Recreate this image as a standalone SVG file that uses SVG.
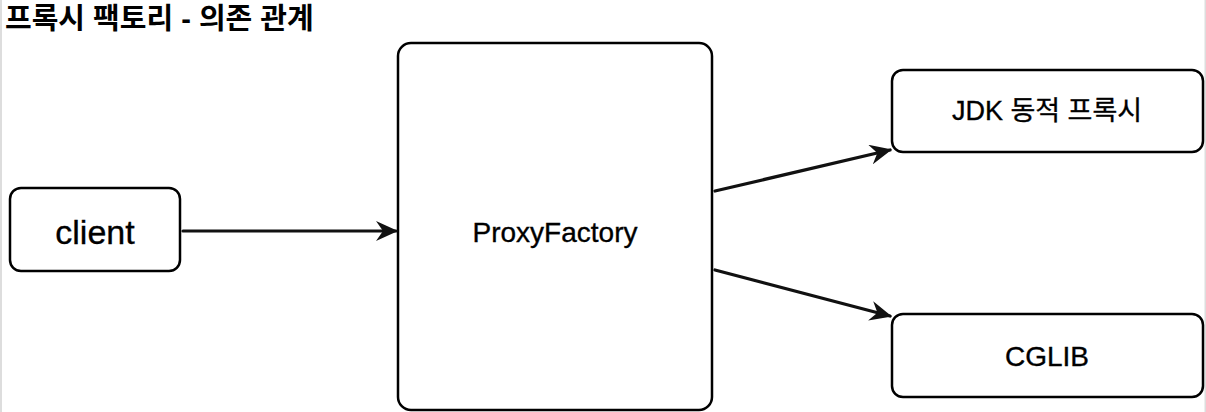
<svg xmlns="http://www.w3.org/2000/svg" width="1206" height="412" viewBox="0 0 1206 412">
<defs>
<style>
.box{fill:#fff;stroke:#000;stroke-width:2.5}
.lbl{font-family:"Liberation Sans","Noto Sans CJK KR",sans-serif;fill:#000;text-anchor:middle;dominant-baseline:central;stroke:#000;stroke-width:0.35}
.edge{stroke:#111;stroke-width:3.2;fill:none;stroke-linecap:round}
</style>
<marker id="ah" markerWidth="22" markerHeight="20" refX="20" refY="10" orient="auto" markerUnits="userSpaceOnUse" viewBox="0 0 22 20">
<path d="M0,0 L22,10 L0,20 L7,10 Z" fill="#111"/>
</marker>
</defs>
<rect x="0" y="0" width="1206" height="412" fill="#fff"/>
<rect x="0" y="0" width="2" height="412" fill="#ddd"/>
<rect x="1204.5" y="0" width="1.5" height="412" fill="#ddd"/>
<text x="5" y="19" class="lbl" style="text-anchor:start;font-size:29px;font-weight:bold;stroke:none">프록시 팩토리 - 의존 관계</text>
<g id="client"><rect class="box" x="10" y="188" width="170" height="83" rx="11"/><text class="lbl" x="95" y="232" font-size="34">client</text></g>
<g id="proxyfactory"><rect class="box" x="398" y="43" width="314" height="367" rx="13"/><text class="lbl" x="555" y="232" font-size="28">ProxyFactory</text></g>
<g id="jdk"><rect class="box" x="892" y="70" width="311" height="82" rx="11"/><text class="lbl" x="1047" y="111" font-size="27">JDK 동적 프록시</text></g>
<g id="cglib"><rect class="box" x="892" y="314" width="311" height="83" rx="11"/><text class="lbl" x="1047" y="356" font-size="28">CGLIB</text></g>
<g id="connectors">
<line class="edge" x1="183" y1="231" x2="396" y2="231" marker-end="url(#ah)"/>
<line class="edge" x1="715" y1="191" x2="890" y2="150" marker-end="url(#ah)"/>
<line class="edge" x1="715" y1="270" x2="890" y2="316" marker-end="url(#ah)"/>
</g>
</svg>
